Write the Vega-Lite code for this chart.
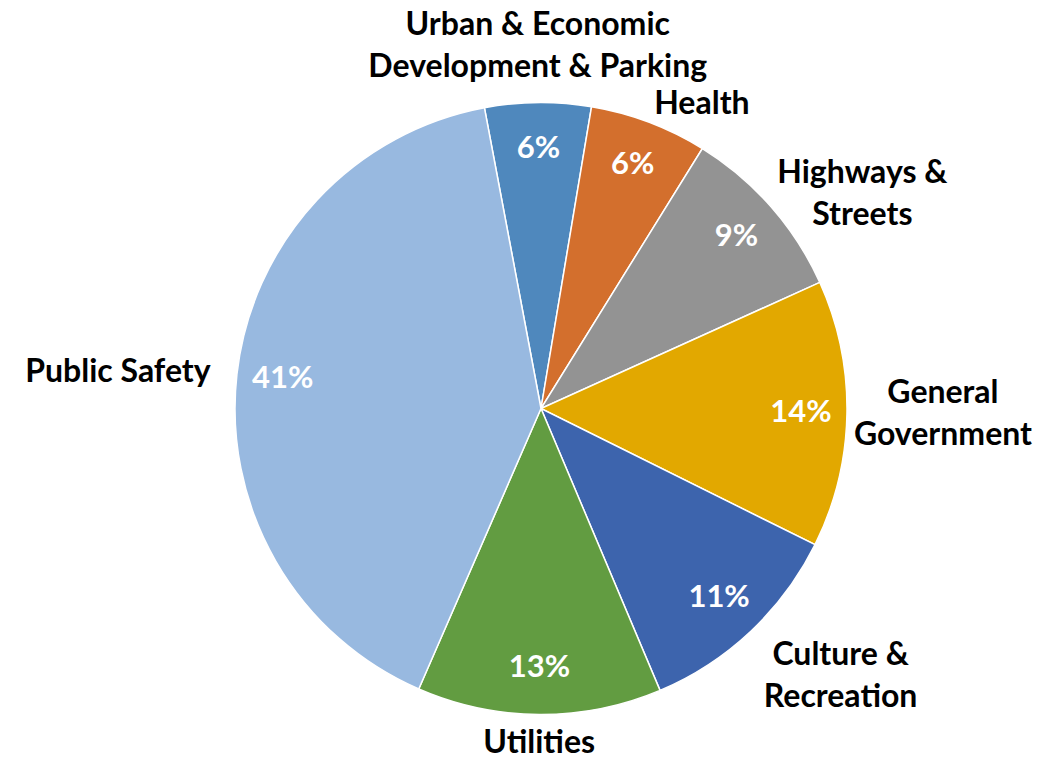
{
  "$schema": "https://vega.github.io/schema/vega-lite/v6.json",
  "width": 1022,
  "height": 709,
  "autosize": "none",
  "padding": {"left": 30, "top": 54, "right": 0, "bottom": 0},
  "background": "white",
  "config": {"view": {"stroke": null}},
  "data": {
    "values": [
      {"category": "Urban & Economic Development & Parking", "label": "Urban & Economic\nDevelopment & Parking", "share": 0.056, "order": 1},
      {"category": "Health", "label": "Health", "share": 0.062, "order": 2},
      {"category": "Highways & Streets", "label": "Highways &\nStreets", "share": 0.094, "order": 3},
      {"category": "General Government", "label": "General\nGovernment", "share": 0.141, "order": 4},
      {"category": "Culture & Recreation", "label": "Culture &\nRecreation", "share": 0.113, "order": 5},
      {"category": "Utilities", "label": "Utilities", "share": 0.129, "order": 6},
      {"category": "Public Safety", "label": "Public Safety", "share": 0.405, "order": 7}
    ]
  },
  "transform": [
    {"window": [{"op": "sum", "field": "share", "as": "cum"}], "sort": [{"field": "order"}], "frame": [null, 0]},
    {"calculate": "-0.1859 + 2 * PI * (datum.cum - datum.share / 2)", "as": "ang"},
    {"calculate": "length(split(datum.label, '\\n'))", "as": "lines"},
    {"calculate": "max(length(split(datum.label, '\\n')[0]), length(split(datum.label, '\\n')[1] || ''))", "as": "maxchars"},
    {"calculate": "sin(datum.ang) > 0.3 ? 1 : (sin(datum.ang) < -0.3 ? -1 : 0)", "as": "side"},
    {"calculate": "cos(datum.ang) > 0.95 ? 'bottom' : (cos(datum.ang) < -0.5 ? 'top' : 'middle')", "as": "vb"}
  ],
  "encoding": {
    "theta": {"field": "share", "type": "quantitative", "stack": true, "scale": {"domain": [0, 1], "range": [-0.1859, 6.0973]}},
    "order": {"field": "order", "type": "quantitative"}
  },
  "layer": [
    {
      "mark": {"type": "arc", "outerRadius": 306, "stroke": "white", "strokeWidth": 1.5},
      "encoding": {
        "color": {
          "field": "category",
          "type": "nominal",
          "scale": {
            "domain": ["Urban & Economic Development & Parking", "Health", "Highways & Streets", "General Government", "Culture & Recreation", "Utilities", "Public Safety"],
            "range": ["#4F88BD", "#D36F2D", "#939393", "#E2A800", "#3D64AD", "#629C41", "#98B9E0"]
          },
          "legend": null
        }
      }
    },
    {
      "mark": {"type": "text", "radius": 260, "font": "Lato", "fontWeight": "bold", "fontSize": 31, "fill": "white"},
      "encoding": {"text": {"field": "share", "type": "quantitative", "format": ".0%"}}
    },
    {
      "mark": {
        "type": "text",
        "radius": 325,
        "font": "Lato",
        "fontWeight": "bold",
        "fontSize": 32,
        "fill": "black",
        "lineBreak": "\n",
        "lineHeight": 42,
        "align": "center",
        "baseline": {"expr": "datum.vb"},
        "dx": {"expr": "datum.side * datum.maxchars * 7.7"},
        "dy": {"expr": "datum.vb == 'bottom' ? -(datum.lines - 1) * 42 : (datum.vb == 'middle' ? -(datum.lines - 1) * 21 : -5)"}
      },
      "encoding": {"text": {"field": "label", "type": "nominal"}}
    }
  ]
}
